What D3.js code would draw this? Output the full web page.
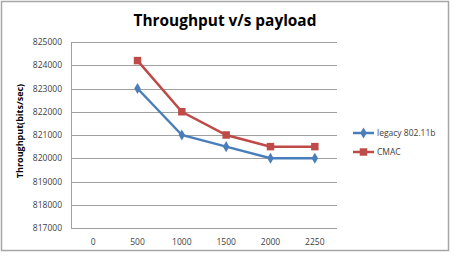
<!DOCTYPE html>
<html>
<head>
<meta charset="utf-8">
<script src="https://cdn.jsdelivr.net/npm/d3@7"></script>
<style>
  body { margin: 0; background: #fff; }
  text { font-family: "Open Sans", "Liberation Sans", sans-serif; }
</style>
</head>
<body>
<div id="chart"></div>
<script>
const payloads = ["0", "500", "1000", "1500", "2000", "2250"];
const legacy = [null, 823000, 821000, 820500, 820000, 820000];
const cmac = [null, 824200, 822000, 821000, 820500, 820500];
const yTicks = [817000, 818000, 819000, 820000, 821000, 822000, 823000, 824000, 825000];

const width = 454;
const height = 256;
const margin = { top: 42, right: 117, bottom: 28, left: 71 };
const graphWidth = width - margin.left - margin.right;
const graphHeight = height - margin.top - margin.bottom;

const svg = d3
  .select("#chart")
  .append("svg")
  .attr("width", width)
  .attr("height", height);

// borda externa
svg
  .append("rect")
  .attr("x", 1.5)
  .attr("y", 1.5)
  .attr("width", 447)
  .attr("height", 249)
  .style("fill", "#fff")
  .style("stroke", "#a6a6a6")
  .style("stroke-width", 1.5);

svg
  .append("text")
  .attr("x", 225)
  .attr("y", 26)
  .attr("text-anchor", "middle")
  .style("font-size", "15.4px")
  .style("font-weight", "bold")
  .style("fill", "#000")
  .text("Throughput v/s payload");

const g = svg
  .append("g")
  .attr("transform", `translate(${margin.left}, ${margin.top})`);

const x = d3.scaleBand().domain(payloads).range([0, graphWidth]);

const y = d3
  .scaleLinear()
  .domain([817000, 825000])
  .range([graphHeight, 0]);

// grade
g.selectAll(".grid")
  .data(yTicks)
  .enter()
  .append("line")
  .attr("x1", 0)
  .attr("x2", graphWidth)
  .attr("y1", (d) => Math.round(y(d)) + 0.5)
  .attr("y2", (d) => Math.round(y(d)) + 0.5)
  .style("stroke", "#a0a0a0")
  .style("stroke-width", 1);

// eixos
const yAxis = g
  .append("g")
  .call(d3.axisLeft(y).tickValues(yTicks).tickSize(0).tickPadding(9).tickFormat(d3.format("d")));
yAxis.select(".domain").style("stroke", "#a0a0a0");
yAxis.selectAll("text").style("font-size", "8.5px").style("fill", "#404040");

const xAxis = g
  .append("g")
  .attr("transform", `translate(0,${graphHeight})`)
  .call(d3.axisBottom(x).tickSize(0).tickPadding(11));
xAxis.select(".domain").remove();
xAxis.selectAll("text").style("font-size", "8.5px").style("fill", "#404040");

svg
  .append("text")
  .attr("transform", `translate(23, ${margin.top + graphHeight / 2 - 4}) rotate(-90)`)
  .attr("text-anchor", "middle")
  .style("font-size", "9px")
  .style("font-weight", "bold")
  .style("fill", "#000")
  .text("Throughput(bits/sec)");

const line = d3
  .line()
  .defined((d) => d != null)
  .x((d, i) => x(payloads[i]) + x.bandwidth() / 2)
  .y((d) => y(d));

const series = [
  { name: "legacy 802.11b", values: legacy, color: "#4a7ebb", marker: d3.symbolDiamond, size: 36 },
  { name: "CMAC", values: cmac, color: "#be4b48", marker: d3.symbolSquare, size: 56 },
];

series.forEach((s) => {
  g.append("path")
    .datum(s.values)
    .attr("d", line)
    .style("fill", "none")
    .style("stroke", s.color)
    .style("stroke-width", 2.5);

  g.selectAll(null)
    .data(s.values.map((v, i) => ({ v, i })).filter((d) => d.v != null))
    .enter()
    .append("path")
    .attr("d", d3.symbol().type(s.marker).size(s.size))
    .attr("transform", (d) => `translate(${x(payloads[d.i]) + x.bandwidth() / 2},${y(d.v)})`)
    .style("fill", s.color);
});

// legenda
const legend = svg
  .selectAll(".legend")
  .data(series)
  .enter()
  .append("g")
  .attr("transform", (d, i) => `translate(353, ${133 + i * 19})`);

legend
  .append("line")
  .attr("x1", 0)
  .attr("x2", 21)
  .style("stroke", (d) => d.color)
  .style("stroke-width", 2.5);

legend
  .append("path")
  .attr("transform", "translate(10.5,0)")
  .attr("d", (d) => d3.symbol().type(d.marker).size(d.size)())
  .style("fill", (d) => d.color);

legend
  .append("text")
  .attr("x", 24)
  .attr("y", 3)
  .style("font-size", "8.5px")
  .style("fill", "#404040")
  .text((d) => d.name);
</script>
</body>
</html>
